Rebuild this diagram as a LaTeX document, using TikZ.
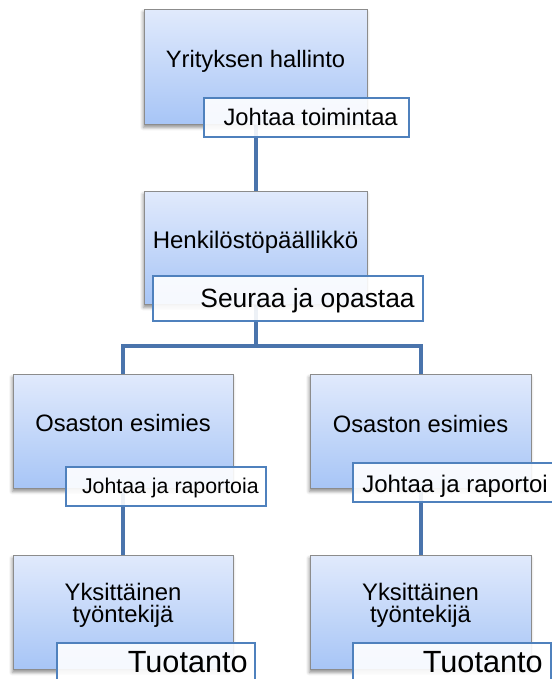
\documentclass[tikz,border=0pt]{standalone}
\usepackage{fontspec}
\setmainfont{Liberation Sans}
\usetikzlibrary{fit,shadows.blur}
\definecolor{boxtop}{RGB}{225,234,252}
\definecolor{boxbot}{RGB}{167,197,246}
\definecolor{boxline}{RGB}{140,140,140}
\definecolor{connblue}{RGB}{74,116,172}
\definecolor{labline}{RGB}{79,129,189}
\pgfdeclarelayer{bg}
\pgfsetlayers{bg,main}
\begin{document}
\begin{tikzpicture}[x=0.75pt,y=-0.75pt,
  box/.style={draw=boxline, line width=0.6pt, top color=boxtop, bottom color=boxbot, inner sep=0pt,
    blur shadow={shadow xshift=-0.5pt, shadow yshift=-2.5pt, shadow blur radius=2.5pt, shadow opacity=45}},
  lab/.style={draw=labline, line width=1.2pt, fill=white, fill opacity=0.9, inner sep=0pt},
  txt/.style={inner sep=0pt, text=black, anchor=base, align=center},
  ltxt/.style={inner sep=0pt, text=black, anchor=base east},
  link/.style={draw=connblue, line width=3pt, line join=miter}]
\useasboundingbox (0,0) rectangle (551,679);
% boxes
\node[box, fit={(144,9) (367,124)}] (b1) {};
\node[box, fit={(144,191) (367,304)}] (b2) {};
\node[box, fit={(13,374) (233,488)}] (b3) {};
\node[box, fit={(310,374) (531,488)}] (b4) {};
\node[box, fit={(13,555) (233,669)}] (b5) {};
\node[box, fit={(310,555) (531,669)}] (b6) {};
% box texts
\node[txt, font=\fontsize{17.8}{20}\selectfont] (t1) at (255.5,67) {Yrityksen hallinto};
\node[txt, font=\fontsize{18}{20}\selectfont] (t2) at (255.5,248) {Henkilöstöpäällikkö};
\node[txt, font=\fontsize{17.8}{20}\selectfont] (t3) at (123,431) {Osaston esimies};
\node[txt, font=\fontsize{17.8}{20}\selectfont] (t4) at (420.5,432) {Osaston esimies};
\node[txt, font=\fontsize{17.9}{16.5}\selectfont] (t5) at (123,622) {Yksittäinen\\työntekijä};
\node[txt, font=\fontsize{17.9}{16.5}\selectfont] (t6) at (420.5,622) {Yksittäinen\\työntekijä};
% labels
\node[lab, fit={(204,98) (409,137)}] (l1) {};
\node[lab, fit={(153,276) (423,321)}] (l2) {};
\node[lab, fit={(66,467) (266,506)}] (l3) {};
\node[lab, fit={(353,463) (558,502)}] (l4) {};
\node[lab, fit={(57,643) (255,688)}] (l5) {};
\node[lab, fit={(353,643) (551,688)}] (l6) {};
\node[ltxt, font=\fontsize{17.8}{20}\selectfont] (l1t) at (398,125) {Johtaa toimintaa};
\node[ltxt, font=\fontsize{19.8}{22}\selectfont] (l2t) at (415,307) {Seuraa ja opastaa};
\node[ltxt, font=\fontsize{16}{18}\selectfont] (l3t) at (259,493) {Johtaa ja raportoia};
\node[ltxt, font=\fontsize{18}{20}\selectfont] (l4t) at (548,492) {Johtaa ja raportoi};
\node[ltxt, font=\fontsize{23}{26}\selectfont] (l5t) at (248,672) {Tuotanto};
\node[ltxt, font=\fontsize{23}{26}\selectfont] (l6t) at (543,672) {Tuotanto};
% connectors
\coordinate (bus) at (255.5,346);
\begin{pgfonlayer}{bg}
\draw[link] (b1.south) -- (b2.north);
\draw[link] (b2.south) -- (bus);
\draw[link] (b3.north) |- (bus) -| (b4.north);
\draw[link] (b3.south) -- (b5.north);
\draw[link] (b4.south) -- (b6.north);
\end{pgfonlayer}
\end{tikzpicture}
\end{document}
